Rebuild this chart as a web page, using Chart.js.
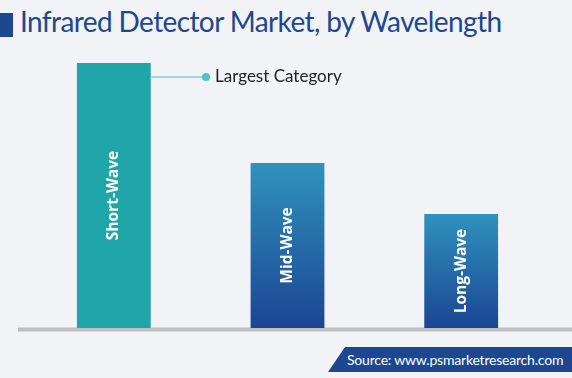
<!DOCTYPE html>
<html>
<head>
<meta charset="utf-8">
<script src="https://cdn.jsdelivr.net/npm/chart.js@4"></script>
<style>
    html, body { margin: 0; padding: 0; background: #f2f3f7; }
    #wrap { position: relative; width: 572px; height: 378px; overflow: hidden; }
    #chart { position: absolute; left: 0; top: 0; }
    .title-mark { position: absolute; left: 0; top: 13px; width: 13px; height: 24px; background: #1d478f; }
    .title { position: absolute; left: 20px; top: 4px; font: 28px Lato, sans-serif; letter-spacing: -0.6px; color: #1d478f; white-space: nowrap; }
    .source { position: absolute; left: 328px; top: 347px; width: 244px; height: 25px; background: #1d478f;
        clip-path: polygon(17px 0, 100% 0, 100% 100%, 0 100%); color: #fff; font: 14px Lato, sans-serif;
        letter-spacing: -0.2px; line-height: 25px; padding-left: 19px; box-sizing: border-box; white-space: nowrap; }
</style>
</head>
<body>
<div id="wrap">
    <div class="title-mark"></div>
    <div class="title">Infrared Detector Market, by Wavelength</div>
    <canvas id="chart" width="572" height="378"></canvas>
    <div class="source">Source: www.psmarketresearch.com</div>
</div>
<script>
const categories = ['Short-Wave', 'Mid-Wave', 'Long-Wave'];
const shareValues = [100, 62.3, 43];
const yMax = 100;
const largestLabel = 'Largest Category';

const axisLine = {
    id: 'axisLine',
    beforeDatasetsDraw(chart) {
        const c = chart.ctx;
        const y = chart.scales.y.getPixelForValue(0) + 1.5;
        c.save();
        c.strokeStyle = '#bfbfbf';
        c.lineWidth = 4;
        c.beginPath();
        c.moveTo(18, y);
        c.lineTo(chart.width, y);
        c.stroke();
        c.restore();
    }
};

const barText = {
    id: 'barText',
    afterDatasetsDraw(chart) {
        const c = chart.ctx;
        const bars = chart.getDatasetMeta(0).data;
        c.save();
        c.fillStyle = '#fff';
        c.font = 'bold 15.5px "Open Sans", sans-serif';
        c.textAlign = 'center';
        c.textBaseline = 'middle';
        bars.forEach((bar, i) => {
            c.save();
            c.translate(bar.x, (bar.y + bar.base) / 2);
            c.rotate(-Math.PI / 2);
            c.fillText(categories[i], 0, 0);
            c.restore();
        });

        // callout for the biggest bar
        const big = bars[0];
        const ly = big.y + 14;
        const x0 = big.x + big.width / 2;
        c.strokeStyle = '#7fd0dc';
        c.lineWidth = 1.5;
        c.beginPath();
        c.moveTo(x0, ly);
        c.lineTo(206, ly);
        c.stroke();
        c.fillStyle = '#4fc2d2';
        c.beginPath();
        c.arc(206, ly, 4, 0, Math.PI * 2);
        c.fill();
        c.fillStyle = '#222';
        c.font = '17px Lato, sans-serif';
        c.textAlign = 'left';
        c.fillText(largestLabel, 215, ly);
        c.restore();
    }
};

new Chart(document.getElementById('chart'), {
    type: 'bar',
    plugins: [axisLine, barText],
    data: {
        labels: categories,
        datasets: [{
            data: shareValues,
            borderWidth: 0,
            barPercentage: 0.85,
            categoryPercentage: 0.5,
            backgroundColor: function (context) {
                const chart = context.chart;
                const i = context.dataIndex;
                if (i === 0) return '#20a6a8';
                if (!chart.chartArea) return '#2a6fab';
                const y = chart.scales.y;
                const top = y.getPixelForValue(shareValues[i]);
                const bottom = y.getPixelForValue(0);
                const g = chart.ctx.createLinearGradient(0, top, 0, bottom);
                g.addColorStop(0, '#2f92bd');
                g.addColorStop(1, '#1b4593');
                return g;
            }
        }]
    },
    options: {
        responsive: false,
        animation: false,
        layout: { padding: { top: 63, bottom: 50, left: 27, right: 24 } },
        plugins: {
            legend: { display: false },
            tooltip: { enabled: false }
        },
        scales: {
            x: { display: false },
            y: { display: false, min: 0, max: yMax }
        }
    }
});
</script>
</body>
</html>
